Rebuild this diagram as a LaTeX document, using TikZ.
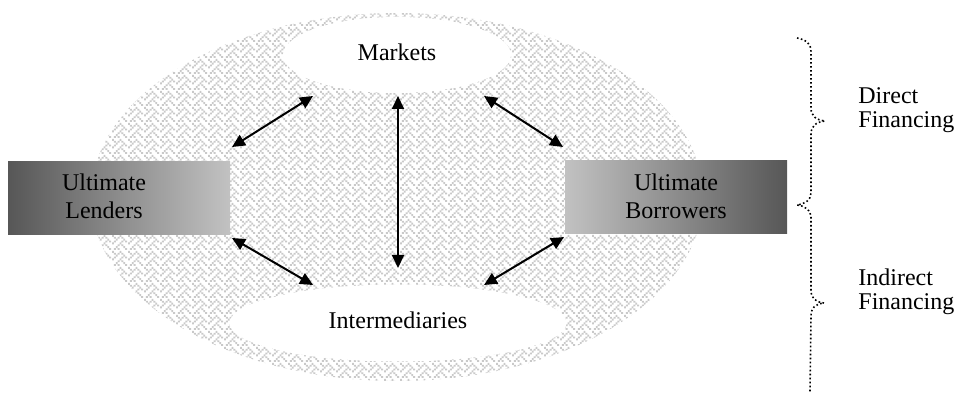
\documentclass[tikz,border=0pt]{standalone}
\usepackage{fontspec}
\setmainfont{Liberation Serif}
\usetikzlibrary{patterns,arrows.meta,shapes.geometric}

% 8x8 woven bitmap used to fill the background oval
\newcommand\wvpix[2]{\pgfpathrectangle{\pgfqpoint{#1pt}{#2pt}}{\pgfqpoint{1pt}{1pt}}}
\pgfdeclarepatternformonly{weave}{\pgfpointorigin}{\pgfqpoint{8pt}{8pt}}{\pgfqpoint{8pt}{8pt}}{%
  \wvpix{0}{7}\wvpix{4}{7}%
  \wvpix{1}{6}\wvpix{3}{6}\wvpix{5}{6}%
  \wvpix{2}{5}\wvpix{6}{5}%
  \wvpix{1}{4}\wvpix{5}{4}\wvpix{7}{4}%
  \wvpix{0}{3}\wvpix{4}{3}%
  \wvpix{3}{2}\wvpix{5}{2}%
  \wvpix{2}{1}\wvpix{6}{1}%
  \wvpix{1}{0}\wvpix{3}{0}\wvpix{7}{0}%
  \pgfusepath{fill}}

\tikzset{
  txt/.style={font=\fontsize{12}{14}\selectfont, align=center, inner sep=0pt},
  sidetxt/.style={font=\fontsize{12}{12}\selectfont, align=left, anchor=west, inner sep=0pt},
  hole/.style={ellipse, fill=white, draw=none, inner sep=0pt},
  party/.style={rectangle, draw=none, inner sep=0pt, minimum width=111pt, minimum height=36.5pt},
  link/.style={{Triangle[length=6.5pt,width=6pt]}-{Triangle[length=6.5pt,width=6pt]}, line width=1pt},
  bracket/.style={dash pattern=on 0.8pt off 1.2pt, line width=0.8pt},
}

\begin{document}
\begin{tikzpicture}[x=0.5pt,y=-0.5pt]
\useasboundingbox (0,0) rectangle (956,394);

% woven background oval
\node[ellipse, inner sep=0pt, minimum width=306pt, minimum height=184pt,
      pattern=weave, pattern color=black!21] (field) at (397,197) {};

% the two channels
\node[hole, minimum width=114pt, minimum height=38pt] (M) at (397,55) {};
\node[txt] (Mt) at (397,52) {Markets};
\node[hole, minimum width=168.5pt, minimum height=38.5pt] (I) at (398,323) {};
\node[txt] (It) at (398,320) {Intermediaries};

% lenders and borrowers
\node[party, left color=black!66, right color=black!24] (L) at (119,198.5) {};
\node[txt] (Lt) at (104,196) {Ultimate\\Lenders};
\node[party, left color=black!24, right color=black!66] (B) at (676,197.5) {};
\node[txt] (Bt) at (676,196) {Ultimate\\Borrowers};

% arrow end points
\coordinate (Lup) at (232,147);
\coordinate (Llo) at (232,238);
\coordinate (Bup) at (563,147);
\coordinate (Blo) at (564,237);
\coordinate (Mw) at (313,96);
\coordinate (Mc) at (398,96);
\coordinate (Me) at (484,96);
\coordinate (Iw) at (313,285);
\coordinate (Ic) at (398,268);
\coordinate (Ie) at (484,285);

\draw[link] (Lup) -- (Mw);
\draw[link] (Me) -- (Bup);
\draw[link] (Mc) -- (Ic);
\draw[link] (Llo) -- (Iw);
\draw[link] (Ie) -- (Blo);

% dotted braces
\draw[bracket] (797,38) .. controls (807,40) and (811,44) .. (811,52)
  -- (811,108) .. controls (811,116) and (816,120) .. (825,121)
  .. controls (816,122) and (811,126) .. (811,134)
  -- (811,193) .. controls (811,200) and (805,204) .. (797,205)
  .. controls (805,206) and (811,210) .. (811,217)
  -- (811,290) .. controls (811,298) and (815,302) .. (824,303)
  .. controls (815,304) and (811,308) .. (811,316)
  -- (810,392);

\node[sidetxt] (direct) at (858,110) {Direct\\Financing};
\node[sidetxt] (indirect) at (858,292) {Indirect\\Financing};
\end{tikzpicture}
\end{document}
